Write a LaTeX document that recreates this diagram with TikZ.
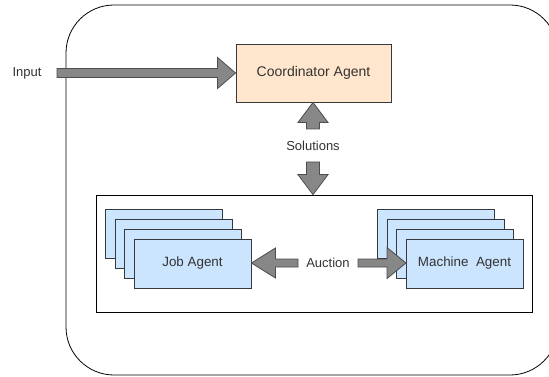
\documentclass[tikz,border=0pt]{standalone}
\usepackage{fontspec}
\setmainfont{Liberation Sans}
\usetikzlibrary{calc}
\definecolor{peach}{HTML}{FFE6CC}
\definecolor{lblue}{HTML}{CCE5FF}
\definecolor{agentline}{HTML}{36393D}
\definecolor{arrfill}{HTML}{878787}
\definecolor{arrline}{HTML}{4D4D4D}
\definecolor{txt}{HTML}{333333}
\tikzset{
  lbl/.style={font=\fontsize{13}{15}\selectfont, text=txt, inner sep=1pt},
  coordbox/.style={draw=agentline, fill=peach, line width=0.9pt, minimum width=155pt, minimum height=58pt, inner sep=0pt, font=\fontsize{14}{16}\selectfont, text=txt},
  agent/.style={draw=agentline, fill=lblue, line width=0.9pt, minimum width=117pt, minimum height=49pt, inner sep=0pt, font=\fontsize{13.4}{15}\selectfont, text=txt},
  frame/.style={draw=black, line width=0.8pt, minimum width=436pt, minimum height=117pt, inner sep=0pt},
  blockarrow/.style={fill=arrfill, draw=arrline, line width=0.8pt, line join=miter},
}
% horizontal block arrow from #1 to #2 (head at #2): shaft half #3, head half #4, head length #5
\newcommand\hblock[5]{%
  \filldraw[blockarrow] let \p1=(#1), \p2=(#2), \n1={sign(\x2-\x1)} in
    (\x1,\y1+#3) -- ({\x2-\n1*#5},\y1+#3) -- ({\x2-\n1*#5},\y1+#4) -- (\x2,\y1)
    -- ({\x2-\n1*#5},\y1-#4) -- ({\x2-\n1*#5},\y1-#3) -- (\x1,\y1-#3) -- cycle;}
% vertical block arrow from #1 to #2 (head at #2)
\newcommand\vblock[5]{%
  \filldraw[blockarrow] let \p1=(#1), \p2=(#2), \n1={sign(\y2-\y1)} in
    (\x1+#3,\y1) -- (\x1+#3,{\y2-\n1*#5}) -- (\x1+#4,{\y2-\n1*#5}) -- (\x1,\y2)
    -- (\x1-#4,{\y2-\n1*#5}) -- (\x1-#3,{\y2-\n1*#5}) -- (\x1-#3,\y1) -- cycle;}
\begin{document}
\begin{tikzpicture}[x=1pt,y=-1pt]
  \clip (0,0) rectangle (549,377);
  \fill[white] (0,0) rectangle (549,377);
  % outer rounded container
  \draw[black, line width=0.8pt, rounded corners=48pt] (66,5) rectangle (558,375);
  % nodes
  \node[lbl] (in) at (27,73) {Input};
  \coordinate (inS) at (57,73);
  \node[coordbox] (coord) at (313.5,73) {Coordinator Agent};
  \node[lbl] (sol) at (313,146) {Solutions};
  \coordinate (solUp) at (313,129);
  \coordinate (solDn) at (313,162);
  \node[frame] (inner) at (314,253.5) {};
  % job agents stack
  \node[agent] (j1) at (163.5,233.5) {};
  \node[agent] (j2) at (173.5,243.5) {};
  \node[agent] (j3) at (183,253.5) {};
  \node[agent] (j4) at (192.5,263.5) {Job Agent};
  % machine agents stack
  \node[agent] (m1) at (435.5,233.5) {};
  \node[agent] (m2) at (445.5,243.5) {};
  \node[agent] (m3) at (455,253.5) {};
  \node[agent] (m4) at (464.5,263.5) {Machine\ \ Agent};
  \node[lbl] (auc) at (328,263) {Auction};
  \coordinate (aucL) at (298,263);
  \coordinate (aucR) at (358,263);
  \coordinate (m4w) at (406,263);
  % arrows
  \hblock{inS}{coord.west}{4.5pt}{15.5pt}{18pt}
  \vblock{solUp}{coord.south}{6.5pt}{15pt}{20pt}
  \vblock{solDn}{inner.north}{6.5pt}{15pt}{20pt}
  \hblock{aucL}{j4.east}{4pt}{15pt}{24pt}
  \hblock{aucR}{m4w}{4pt}{15.5pt}{19pt}
\end{tikzpicture}
\end{document}
